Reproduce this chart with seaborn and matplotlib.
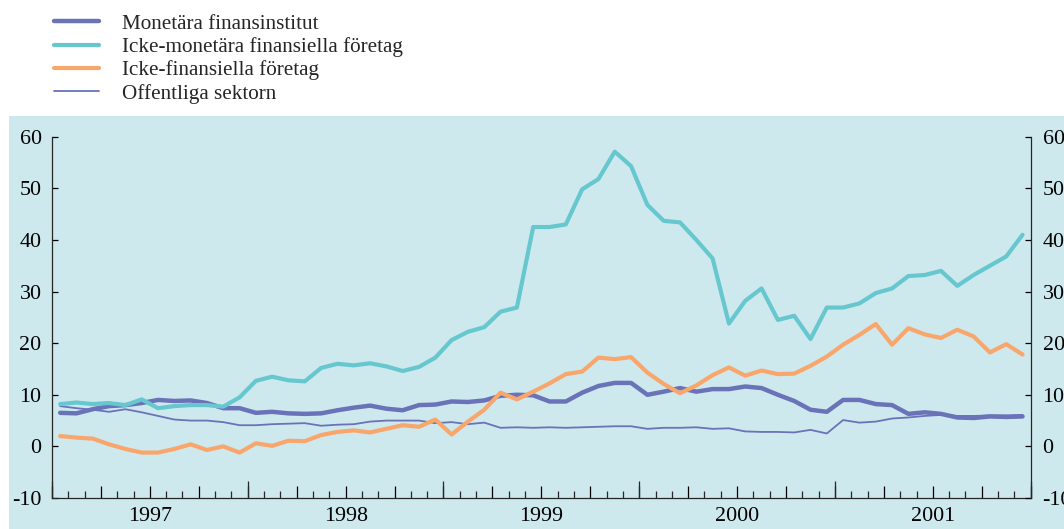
import numpy as np
import pandas as pd
import matplotlib
matplotlib.use("Agg")
import matplotlib.pyplot as plt
import seaborn as sns
from matplotlib.patches import Rectangle

# ---- data (monthly, Jan 1997 - Dec 2001) ----
years = ["1997", "1998", "1999", "2000", "2001"]
month_index = np.arange(60)

monetara = [6.5, 6.4, 7.2, 7.8, 8.0, 8.4, 9.0, 8.8, 8.9, 8.4, 7.4, 7.4,
            6.5, 6.7, 6.4, 6.3, 6.4, 7.0, 7.5, 7.9, 7.3, 7.0, 8.0, 8.1,
            8.7, 8.6, 8.9, 9.8, 10.0, 9.9, 8.7, 8.7, 10.4, 11.7, 12.3, 12.3,
            10.0, 10.6, 11.3, 10.6, 11.1, 11.1, 11.6, 11.3, 10.0, 8.8, 7.1, 6.7,
            9.0, 9.0, 8.2, 8.0, 6.3, 6.6, 6.3, 5.6, 5.5, 5.8, 5.7, 5.8]

icke_monetara = [8.2, 8.5, 8.2, 8.4, 8.0, 9.1, 7.4, 7.8, 8.0, 8.0, 7.7, 9.5,
                 12.7, 13.5, 12.8, 12.6, 15.2, 16.0, 15.7, 16.1, 15.5, 14.6, 15.4, 17.2,
                 20.6, 22.2, 23.1, 26.1, 26.9, 42.5, 42.5, 43.0, 49.8, 51.8, 57.1, 54.3,
                 46.8, 43.7, 43.4, 40.0, 36.4, 23.8, 28.2, 30.6, 24.5, 25.3, 20.8, 26.9,
                 26.9, 27.7, 29.7, 30.6, 33.0, 33.2, 34.0, 31.1, 33.2, 35.0, 36.8, 41.0]

icke_finansiella = [2.0, 1.7, 1.5, 0.4, -0.5, -1.2, -1.2, -0.5, 0.4, -0.7, 0.0, -1.2,
                    0.6, 0.1, 1.1, 1.0, 2.2, 2.8, 3.1, 2.7, 3.4, 4.1, 3.8, 5.2,
                    2.3, 4.8, 7.1, 10.4, 9.1, 10.6, 12.2, 14.0, 14.5, 17.2, 16.9, 17.3,
                    14.3, 12.1, 10.3, 11.8, 13.8, 15.3, 13.7, 14.7, 14.0, 14.1, 15.6, 17.4,
                    19.7, 21.6, 23.7, 19.7, 22.9, 21.7, 21.0, 22.6, 21.3, 18.2, 19.8, 17.8]

offentliga = [7.8, 7.4, 7.1, 6.7, 7.2, 6.6, 5.9, 5.2, 5.0, 5.0, 4.7, 4.1,
              4.1, 4.3, 4.4, 4.5, 4.0, 4.2, 4.3, 4.8, 5.0, 5.0, 5.0, 4.5,
              4.7, 4.3, 4.6, 3.6, 3.7, 3.6, 3.7, 3.6, 3.7, 3.8, 3.9, 3.9,
              3.4, 3.6, 3.6, 3.7, 3.4, 3.5, 2.9, 2.8, 2.8, 2.7, 3.2, 2.5,
              5.1, 4.6, 4.8, 5.4, 5.6, 5.9, 6.1, 5.9, 5.9, 6.0, 6.0, 6.1]

series_labels = ["Monetära finansinstitut",
                 "Icke-monetära finansiella företag",
                 "Icke-finansiella företag",
                 "Offentliga sektorn"]

# ---- styling ----
bg = "#cde9ee"
c_mon = "#6a72b8"
c_cyan = "#67c7cf"
c_orange = "#f9a66c"
c_off = "#6a72b8"
tick_fs = 15.8

sns.set_style("ticks")
plt.rcParams["font.family"] = ["Liberation Serif", "DejaVu Serif"]
plt.rcParams["axes.linewidth"] = 0.9

W, H = 1064, 529
fig = plt.figure(figsize=(W / 100, H / 100), dpi=100)
fig.patch.set_facecolor("white")
fig.patches.append(Rectangle((9 / W, 0), 1 - 9 / W, (H - 116) / H,
                             transform=fig.transFigure, facecolor=bg,
                             edgecolor="none", zorder=-10))

ax = fig.add_axes([52 / W, (H - 498) / H, 978.7 / W, 361.3 / H])
ax.set_facecolor("none")

df = pd.DataFrame({
    "x": month_index + 0.5,
    series_labels[0]: monetara,
    series_labels[1]: icke_monetara,
    series_labels[2]: icke_finansiella,
    series_labels[3]: offentliga,
})

specs = {
    series_labels[3]: (c_off, 1.3),
    series_labels[0]: (c_mon, 3.2),
    series_labels[2]: (c_orange, 3.0),
    series_labels[1]: (c_cyan, 3.0),
}
for lab in [series_labels[3], series_labels[0], series_labels[2], series_labels[1]]:
    col, lw = specs[lab]
    sns.lineplot(data=df, x="x", y=lab, ax=ax, color=col, linewidth=lw,
                 label=lab, legend=False)

ax.set_xlim(0, 60)
ax.set_ylim(-10, 60)
ax.set_xlabel("")
ax.set_ylabel("")

# y axis (left)
yt = np.arange(-10, 61, 10)
ax.set_yticks(yt)
ax.set_yticklabels([str(v) for v in yt])
ax.tick_params(axis="y", direction="in", length=4, width=0.9, pad=7.5,
               labelsize=tick_fs, colors="black")

# x axis: quarter ticks (major), monthly minor ticks, year labels at mid-year
quarters = np.arange(0, 61, 3)
qlabels = []
for q in quarters:
    if q % 12 == 6:
        qlabels.append(years[q // 12])
    else:
        qlabels.append("")
ax.set_xticks(quarters)
ax.set_xticklabels(qlabels)
ax.set_xticks(np.arange(0, 61, 1), minor=True)
ax.tick_params(axis="x", which="major", direction="in", length=9, width=0.9,
               pad=6.5, labelsize=tick_fs, colors="black")
ax.tick_params(axis="x", which="minor", direction="in", length=5, width=0.9)

ax.spines["top"].set_visible(False)
ax.spines["right"].set_visible(False)

# right axis duplicate
axr = ax.twinx()
axr.set_ylim(-10, 60)
axr.set_yticks(yt)
axr.set_yticklabels([str(v) for v in yt])
axr.tick_params(axis="y", direction="in", length=4, width=0.9, pad=8.5,
                labelsize=tick_fs, colors="black")
for s in ["top", "left", "bottom"]:
    axr.spines[s].set_visible(False)
axr.spines["right"].set_visible(True)
axr.set_facecolor("none")

# year-boundary long ticks
axt = ax.twiny()
axt.set_xlim(0, 60)
axt.xaxis.set_ticks_position("bottom")
axt.set_xticks(np.arange(0, 61, 12))
axt.tick_params(axis="x", direction="in", length=12, width=0.9,
                labelbottom=False, labeltop=False)
for s in axt.spines.values():
    s.set_visible(False)
axt.set_facecolor("none")

# legend
handles, labels = ax.get_legend_handles_labels()
order = [labels.index(l) for l in series_labels]
fig.legend([handles[i] for i in order], [labels[i] for i in order],
           loc="upper left", bbox_to_anchor=(54 / W, 1 - 14 / H),
           frameon=False, fontsize=15.2, handlelength=2.15, handletextpad=1.05,
           labelspacing=0.16, borderpad=0, borderaxespad=0)

fig.savefig("out.png", dpi=100, facecolor="white")
